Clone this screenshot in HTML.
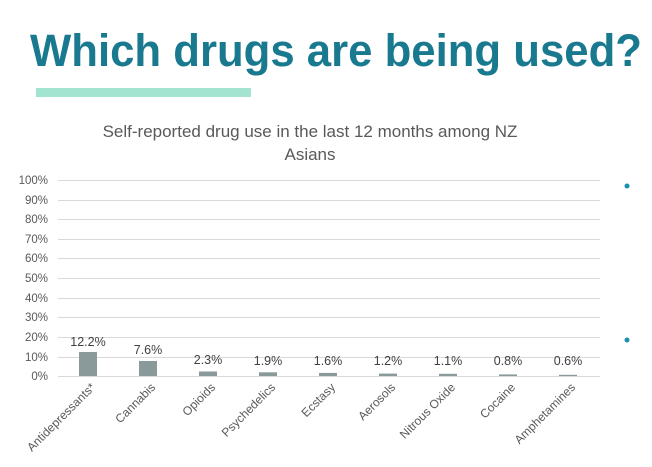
<!DOCTYPE html>
<html><head><meta charset="utf-8"><style>
body{margin:0;background:#fff;width:652px;height:462px;overflow:hidden;font-family:"Liberation Sans",sans-serif}
</style></head><body>
<svg width="652" height="462" xmlns="http://www.w3.org/2000/svg" font-family="Liberation Sans, sans-serif">
<text x="30" y="66" font-size="45" font-weight="bold" fill="#18798f" textLength="612" lengthAdjust="spacingAndGlyphs">Which drugs are being used?</text>
<rect x="36" y="88" width="215" height="9" fill="#a3e4d1"/>
<text x="310" y="137" font-size="17" fill="#595959" text-anchor="middle">Self-reported drug use in the last 12 months among NZ</text>
<text x="310" y="160" font-size="17" fill="#595959" text-anchor="middle">Asians</text>
<g stroke="#d9d9d9" stroke-width="1">
<line x1="58" x2="600" y1="180.5" y2="180.5"/><line x1="58" x2="600" y1="200.5" y2="200.5"/>
<line x1="58" x2="600" y1="219.5" y2="219.5"/><line x1="58" x2="600" y1="239.5" y2="239.5"/>
<line x1="58" x2="600" y1="258.5" y2="258.5"/><line x1="58" x2="600" y1="278.5" y2="278.5"/>
<line x1="58" x2="600" y1="298.5" y2="298.5"/><line x1="58" x2="600" y1="317.5" y2="317.5"/>
<line x1="58" x2="600" y1="337.5" y2="337.5"/><line x1="58" x2="600" y1="357.5" y2="357.5"/>
<line x1="58" x2="600" y1="376.5" y2="376.5"/>
</g>
<g font-size="11.5" fill="#595959" text-anchor="end">
<text x="48" y="184">100%</text><text x="48" y="204">90%</text><text x="48" y="223">80%</text>
<text x="48" y="243">70%</text><text x="48" y="262">60%</text><text x="48" y="282">50%</text>
<text x="48" y="302">40%</text><text x="48" y="321">30%</text><text x="48" y="341">20%</text>
<text x="48" y="361">10%</text><text x="48" y="380">0%</text>
</g>
<g fill="#8a9a9b">
<rect x="79" y="352" width="18" height="24"/><rect x="139" y="361" width="18" height="15"/>
<rect x="199" y="371.5" width="18" height="4.5"/><rect x="259" y="372.3" width="18" height="3.7"/>
<rect x="319" y="372.9" width="18" height="3.1"/><rect x="379" y="373.6" width="18" height="2.4"/>
<rect x="439" y="373.8" width="18" height="2.2"/><rect x="499" y="374.4" width="18" height="1.6"/>
<rect x="559" y="374.8" width="18" height="1.2"/>
</g>
<g font-size="12.5" fill="#404040" text-anchor="middle">
<text x="88" y="346">12.2%</text><text x="148" y="354">7.6%</text><text x="208" y="364">2.3%</text>
<text x="268" y="365">1.9%</text><text x="328" y="365">1.6%</text><text x="388" y="365">1.2%</text>
<text x="448" y="365">1.1%</text><text x="508" y="365">0.8%</text><text x="568" y="365">0.6%</text>
</g>
<g font-size="12" fill="#595959" text-anchor="end">
<text transform="translate(96,388) rotate(-45)">Antidepressants*</text>
<text transform="translate(156,388) rotate(-45)">Cannabis</text>
<text transform="translate(216,388) rotate(-45)">Opioids</text>
<text transform="translate(276,388) rotate(-45)">Psychedelics</text>
<text transform="translate(336,388) rotate(-45)">Ecstasy</text>
<text transform="translate(396,388) rotate(-45)">Aerosols</text>
<text transform="translate(456,388) rotate(-45)">Nitrous Oxide</text>
<text transform="translate(516,388) rotate(-45)">Cocaine</text>
<text transform="translate(576,388) rotate(-45)">Amphetamines</text>
</g>
<circle cx="627" cy="186" r="2.5" fill="#1a8fb0"/>
<circle cx="627" cy="340" r="2.5" fill="#1a8fb0"/>
</svg>
</body></html>
